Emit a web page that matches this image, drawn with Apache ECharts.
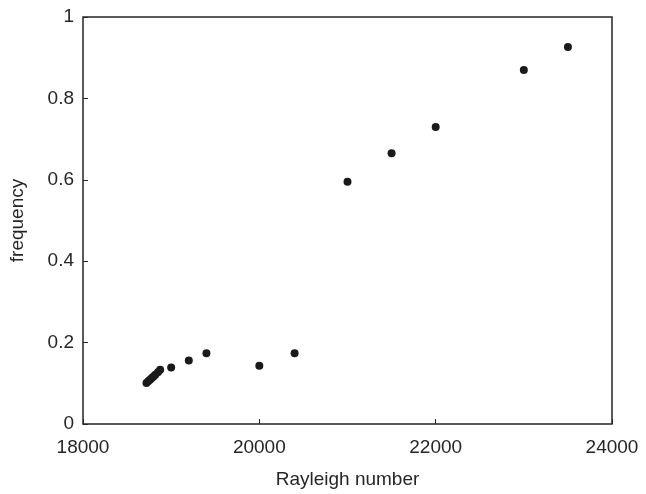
<!DOCTYPE html>
<html>
<head>
<meta charset="utf-8">
<script src="https://cdn.jsdelivr.net/npm/echarts@6/dist/echarts.min.js"></script>
<style>
  html, body { margin: 0; padding: 0; background: #fff; }
  #chart { width: 646px; height: 494px; }
</style>
</head>
<body>
<div id="chart"></div>
<script>
// Rayleigh number vs frequency
var rayleigh = [18720, 18740, 18760, 18780, 18800, 18820, 18850, 18875,
                19000, 19200, 19400, 20000, 20400, 21000, 21500, 22000, 23000, 23500];
var frequency = [0.101, 0.105, 0.109, 0.113, 0.117, 0.121, 0.127, 0.133,
                 0.139, 0.156, 0.174, 0.143, 0.174, 0.595, 0.665, 0.730, 0.870, 0.926];

var points = [];
for (var i = 0; i < rayleigh.length; i++) {
  points.push([rayleigh[i], frequency[i]]);
}

var font = 'Liberation Sans, Arial, Helvetica, sans-serif';
var lineCol = '#262626';

var myChart = echarts.init(document.getElementById('chart'));
var option = {
  animation: false,
  backgroundColor: '#fff',
  grid: {
    left: 83, right: 34, top: 17, bottom: 70,
    show: true, borderColor: lineCol, borderWidth: 1.5, backgroundColor: 'transparent'
  },
  xAxis: {
    type: 'value', min: 18000, max: 24000, interval: 2000,
    name: 'Rayleigh number', nameLocation: 'middle', nameGap: 46,
    nameTextStyle: { color: lineCol, fontSize: 19, fontFamily: font },
    axisLine: { show: false },
    axisTick: { show: true, inside: true, length: 5, lineStyle: { color: lineCol } },
    axisLabel: { color: lineCol, fontSize: 19, fontFamily: font, margin: 14,
      formatter: function (v) { return String(v); } },
    splitLine: { show: false }
  },
  yAxis: {
    type: 'value', min: 0, max: 1, interval: 0.2,
    name: 'frequency', nameLocation: 'middle', nameGap: 56,
    nameTextStyle: { color: lineCol, fontSize: 19, fontFamily: font },
    axisLine: { show: false },
    axisTick: { show: true, inside: true, length: 5, lineStyle: { color: lineCol } },
    axisLabel: { color: lineCol, fontSize: 19, fontFamily: font, margin: 9,
      formatter: function (v) { return String(Math.round(v * 10) / 10); } },
    splitLine: { show: false }
  },
  series: [{
    type: 'scatter',
    data: points,
    symbol: 'circle',
    symbolSize: 8,
    itemStyle: { color: '#1a1a1a', opacity: 1 }
  }]
};
myChart.setOption(option);
</script>
</body>
</html>
